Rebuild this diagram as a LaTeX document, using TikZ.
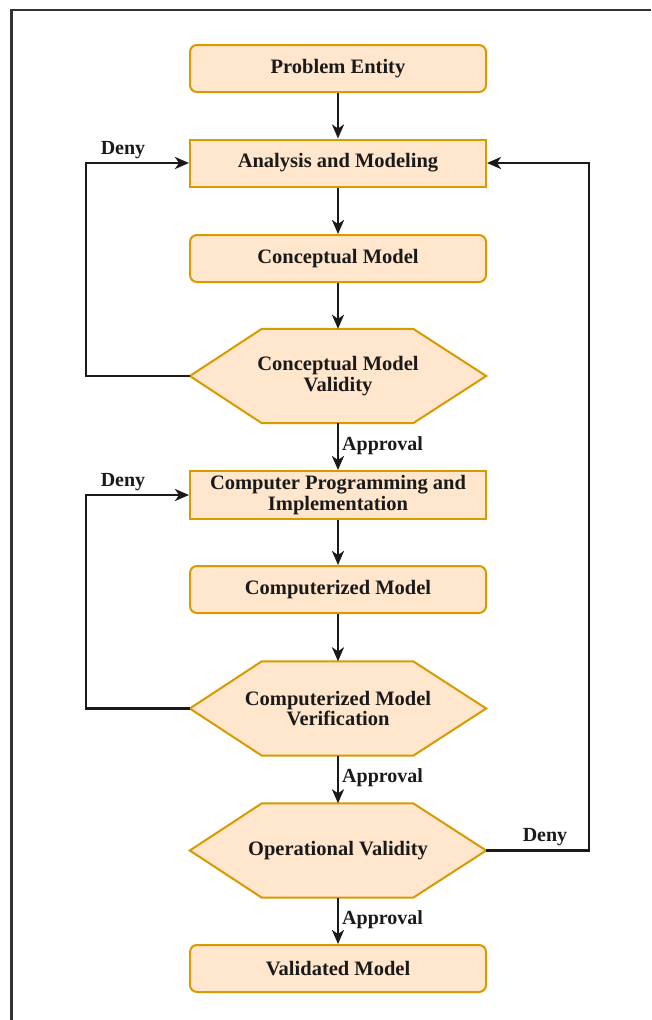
\documentclass[tikz,border=0pt]{standalone}
\usepackage{fontspec}
\setmainfont{Liberation Serif}
\usetikzlibrary{arrows.meta,backgrounds}
\definecolor{boxfill}{HTML}{FFE6CC}
\definecolor{boxline}{HTML}{D79B00}
\definecolor{framegray}{HTML}{333333}
\definecolor{inkdark}{HTML}{1A1A1A}

% hexagonal decision outline drawn behind a named node
\newcommand{\hexoutline}[1]{%
  \begin{pgfonlayer}{background}
    \path[hexshape] (#1.west) -- ([xshift=72pt]#1.north west)
      -- ([xshift=-73pt]#1.north east) -- (#1.east)
      -- ([xshift=-73pt]#1.south east) -- ([xshift=72pt]#1.south west) -- cycle;
  \end{pgfonlayer}}

\begin{document}
\begin{tikzpicture}[x=1pt,y=-1pt,
  every node/.style={font=\fontsize{20.5}{20.5}\selectfont\bfseries, text=inkdark},
  roundbox/.style={draw=boxline, fill=boxfill, line width=2pt, rounded corners=7pt,
    minimum width=296pt, minimum height=47pt, inner sep=0pt, align=center},
  squarebox/.style={roundbox, rounded corners=0pt},
  hexnode/.style={minimum width=296pt, minimum height=94pt, inner sep=0pt, align=center},
  hexshape/.style={draw=boxline, fill=boxfill, line width=2pt, line join=miter},
  flow/.style={line width=2.4pt, draw=inkdark, -{Stealth[length=14pt,width=12pt,inset=4pt]}},
  lbl/.style={font=\fontsize{20}{20}\selectfont\bfseries, inner sep=0pt}
]
\useasboundingbox (0,0) rectangle (651,1020);

% outer frame
\draw[framegray, line width=2.2pt] (11.5,1020) -- (11.5,10) -- (651,10);

% process steps
\node[roundbox]  (pe)   at (338,68.5)  {Problem Entity};
\node[squarebox] (am)   at (338,163)   {Analysis and Modeling};
\node[roundbox]  (cm)   at (338,258.5) {Conceptual Model};
\node[hexnode]   (cmv)  at (338,376)   {Conceptual Model\\Validity};
\node[squarebox, minimum height=48pt] (cpi) at (338,495) {Computer Programming and\\Implementation};
\node[roundbox]  (czm)  at (338,589.5) {Computerized Model};
\node[hexnode]   (cmvr) at (338,708.5) {Computerized Model\\Verification};
\node[hexnode]   (ov)   at (338,850.5) {Operational Validity};
\node[roundbox]  (vm)   at (338,968.5) {Validated Model};

\hexoutline{cmv}
\hexoutline{cmvr}
\hexoutline{ov}

% main flow
\draw[flow] (pe) -- (am);
\draw[flow] (am) -- (cm);
\draw[flow] (cm) -- (cmv);
\draw[flow] (cmv) -- (cpi);
\draw[flow] (cpi) -- (czm);
\draw[flow] (czm) -- (cmvr);
\draw[flow] (cmvr) -- (ov);
\draw[flow] (ov) -- (vm);

% approval labels
\node[lbl, anchor=west] (ap1) at (342,446) {Approval};
\node[lbl, anchor=west] (ap2) at (342,778) {Approval};
\node[lbl, anchor=west] (ap3) at (342,920) {Approval};

% feedback loops
\draw[flow] (cmv.west) -- ++(-104,0) |- (am.west);
\draw[flow] (cmvr.west) -- ++(-104,0) |- (cpi.west);
\draw[flow] (ov.east) -- ++(103,0) |- (am.east);

\node[lbl] (dn1) at (123,150) {Deny};
\node[lbl] (dn2) at (123,482) {Deny};
\node[lbl] (dn3) at (545,837) {Deny};
\end{tikzpicture}
\end{document}
